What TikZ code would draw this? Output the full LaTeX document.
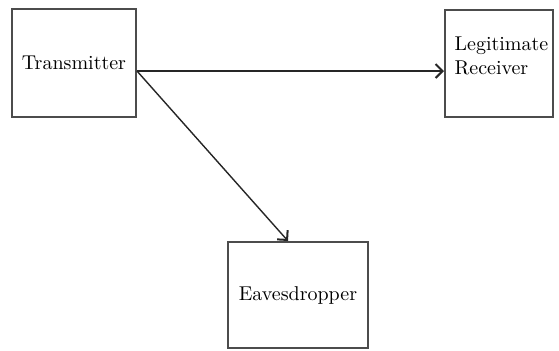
\documentclass[tikz,border=0pt]{standalone}
\usepackage{tikz}
\usetikzlibrary{arrows}
\usetikzlibrary{arrows.meta}

\begin{document}
\begin{tikzpicture}[x=0.5pt,y=-0.5pt]
    \useasboundingbox (0,0) rectangle (559,350);
    \tikzset{blockbox/.style={shape=rectangle,draw=black!70,line width=1pt,align=left},
             link/.style={-{Straight Barb[length=3.5pt,width=7pt,line width=1pt]},line width=0.7pt,color=black!85}}
	\node (tx) at (74,63) [blockbox,minimum width=62pt,minimum height=54pt] {Transmitter};
	\node (rx) at (499,63.5) [blockbox,inner xsep=0pt,minimum width=54pt,minimum height=53.5pt] {\hspace*{2.5pt}\raisebox{0pt}[\height][\dimexpr\depth+6pt]{\begin{tabular}{@{}l@{}}Legitimate\\Receiver\end{tabular}}};
	\node (eve) at (298,295) [blockbox,minimum width=70pt,minimum height=53pt] {Eavesdropper};
	\coordinate (txout) at ([yshift=-4pt]tx.east); % where both links leave
	\draw[link] (txout) -- (txout -| rx.west);
	\draw[link] (txout) -- ([xshift=-5pt]eve.north);
\end{tikzpicture}
\end{document}
